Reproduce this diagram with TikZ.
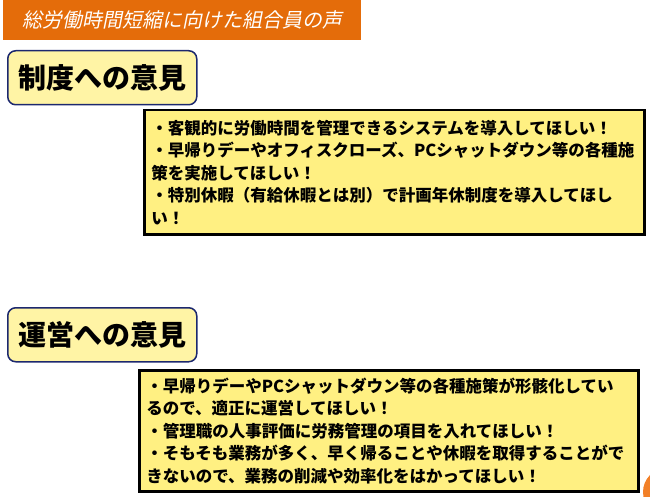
\documentclass[tikz,border=0pt]{standalone}
\usepackage{fontspec}
\setmainfont{Noto Sans CJK JP}
\newfontfamily\slantjp{Noto Sans CJK JP}[FakeSlant=0.2]
\definecolor{bannerorange}{RGB}{228,108,10}
\definecolor{headnavy}{RGB}{28,40,110}
\definecolor{headfill}{RGB}{255,244,165}
\definecolor{opinionfill}{RGB}{255,240,130}
\definecolor{cornerorange}{RGB}{242,128,40}
\begin{document}
\begin{tikzpicture}[x=1pt,y=-1pt,
  banner/.style={fill=bannerorange,text=white,anchor=north west,inner sep=0pt,
    minimum width=358pt,minimum height=40pt,font=\slantjp\fontsize{20}{24}\selectfont},
  heading/.style={draw=headnavy,line width=1.5pt,fill=headfill,rounded corners=8pt,
    anchor=north west,inner sep=0pt,minimum width=189pt,minimum height=54pt,
    font=\fontsize{28}{30}\selectfont\bfseries},
  opinion/.style={draw=black,line width=2.5pt,fill=opinionfill,anchor=north west,
    align=left,inner xsep=7pt,inner ysep=0pt,
    font=\fontsize{16.5}{22.5}\selectfont\bfseries}]
\useasboundingbox (0,0) rectangle (650,497);
        \node[banner] (banner) at (3,0) {総労働時間短縮に向けた組合員の声};
        % 制度
        \node[heading] (seido) at (7,50) {制度への意見};
        \node[opinion,text width=486pt,minimum height=124pt] (seidotext) at (143,109)
          {・客観的に労働時間を管理できるシステムを導入してほしい！\\
           ・早帰りデーやオフィスクローズ、PCシャットダウン等の各種施\\
           策を実施してほしい！\\
           ・特別休暇（有給休暇とは別）で計画年休制度を導入してほし\\
           い！};
        % 運営
        \node[heading] (unei) at (7,307) {運営への意見};
        \node[opinion,text width=485pt,minimum height=121pt] (ueitext) at (138,369)
          {・早帰りデーやPCシャットダウン等の各種施策が形骸化してい\\
           るので、適正に運営してほしい！\\
           ・管理職の人事評価に労務管理の項目を入れてほしい！\\
           ・そもそも業務が多く、早く帰ることや休暇を取得することがで\\
           きないので、業務の削減や効率化をはかってほしい！};
        \fill[cornerorange] (667,492) circle (24pt);
\end{tikzpicture}
\end{document}
